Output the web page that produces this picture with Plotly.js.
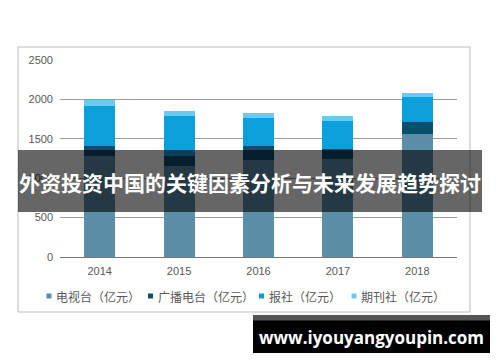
<!DOCTYPE html>
<html>
<head>
<meta charset="utf-8">
<script src="https://cdn.plot.ly/plotly-3.0.1.min.js"></script>
<style>html,body{margin:0;padding:0;background:#fff;}#chart{width:500px;height:362px;}</style>
</head>
<body>
<div id="chart"></div>
<script>
// Data
const years = ['2014', '2015', '2016', '2017', '2018'];
const seriesNames = ['电视台（亿元）', '广播电台（亿元）', '报社（亿元）', '期刊社（亿元）'];
const tv = [1277, 1150, 1237, 1240, 1565];
const radio = [127, 127, 167, 125, 143];
const newspaper = [516, 507, 360, 356, 317];
const magazine = [76, 64, 63, 72, 56];
const yTicks = [0, 500, 1000, 1500, 2000, 2500];
const bannerText = '外资投资中国的关键因素分析与未来发展趋势探讨';
const watermarkText = 'www.iyouyangyoupin.com';

const colors = ['#5b8fa8', '#0b4f6c', '#0ba0da', '#6ccaf0'];
const values = [tv, radio, newspaper, magazine];

const W = 500, H = 362;
const L = 60, R = 43, T = 60, B = 105;
const pw = W - L - R, ph = H - T - B;
const px = x => (x - L) / pw;
const py = y => (H - B - y) / ph;

const traces = values.map((v, i) => ({
  type: 'bar', x: years, y: v, name: seriesNames[i],
  marker: {color: colors[i], line: {width: 0}},
  hoverinfo: 'skip', showlegend: false
}));

const shapes = [
  // outer frame
  {type: 'rect', xref: 'paper', yref: 'paper', x0: px(18), x1: px(470), y0: py(312), y1: py(47),
   line: {color: '#bdbdbd', width: 1}, fillcolor: 'rgba(0,0,0,0)', layer: 'below'},
  // banner
  {type: 'rect', xref: 'paper', yref: 'paper', x0: px(18), x1: px(482), y0: py(212), y1: py(150),
   line: {width: 0}, fillcolor: 'rgba(0,0,0,0.6)', layer: 'above'},
  // watermark box
  {type: 'rect', xref: 'paper', yref: 'paper', x0: px(253), x1: px(490), y0: py(353), y1: py(315),
   line: {width: 0}, fillcolor: '#000000', layer: 'above'},
  {type: 'rect', xref: 'paper', yref: 'paper', x0: px(253), x1: px(490), y0: py(320.5), y1: py(315),
   line: {width: 0}, fillcolor: '#555555', layer: 'above'}
];

const legendPos = [[46.5, 54], [148, 155.5], [259, 266.5], [351.5, 358.5]];
const annotations = [];
legendPos.forEach((p, i) => {
  shapes.push({type: 'rect', xref: 'paper', yref: 'paper', x0: px(p[0]), x1: px(p[0] + 5),
    y0: py(298.5), y1: py(293.5), line: {width: 0}, fillcolor: colors[i]});
  annotations.push({xref: 'paper', yref: 'paper', x: px(p[1]), y: py(296), xanchor: 'left', yanchor: 'middle',
    text: seriesNames[i], showarrow: false,
    font: {family: 'Noto Sans CJK SC, sans-serif', size: 12, color: '#595959'}});
});
annotations.push({xref: 'paper', yref: 'paper', x: px(250), y: py(182), xanchor: 'center', yanchor: 'middle',
  text: '<b>' + bannerText + '</b>', showarrow: false,
  font: {family: 'Noto Sans CJK SC, sans-serif', size: 21, color: '#ffffff'}});
annotations.push({xref: 'paper', yref: 'paper', x: px(371), y: py(337.5), xanchor: 'center', yanchor: 'middle',
  text: '<b>' + watermarkText + '</b>', showarrow: false,
  font: {family: 'Open Sans, sans-serif', size: 17, color: '#ffffff'}});

const layout = {
  width: W, height: H,
  margin: {l: L, r: R, t: T, b: B, pad: 0},
  paper_bgcolor: '#ffffff', plot_bgcolor: '#ffffff',
  barmode: 'stack', bargap: 0.61,
  showlegend: false,
  font: {family: 'Liberation Sans, Arial, sans-serif', size: 11, color: '#595959'},
  xaxis: {type: 'category', showgrid: false, zeroline: false, showline: false, ticks: '',
    ticklabelstandoff: 6, tickfont: {size: 11, color: '#595959'}, fixedrange: true},
  yaxis: {range: [0, 2500], tickvals: yTicks, ticktext: yTicks.map(String), showgrid: true,
    gridcolor: '#9a9a9a', gridwidth: 1, zeroline: true, zerolinecolor: '#777777', zerolinewidth: 1,
    showline: false, ticks: '', ticklabelstandoff: 6, tickfont: {size: 11, color: '#595959'}, fixedrange: true},
  shapes: shapes, annotations: annotations
};

Plotly.newPlot('chart', traces, layout, {displayModeBar: false, staticPlot: true});
</script>
</body>
</html>
